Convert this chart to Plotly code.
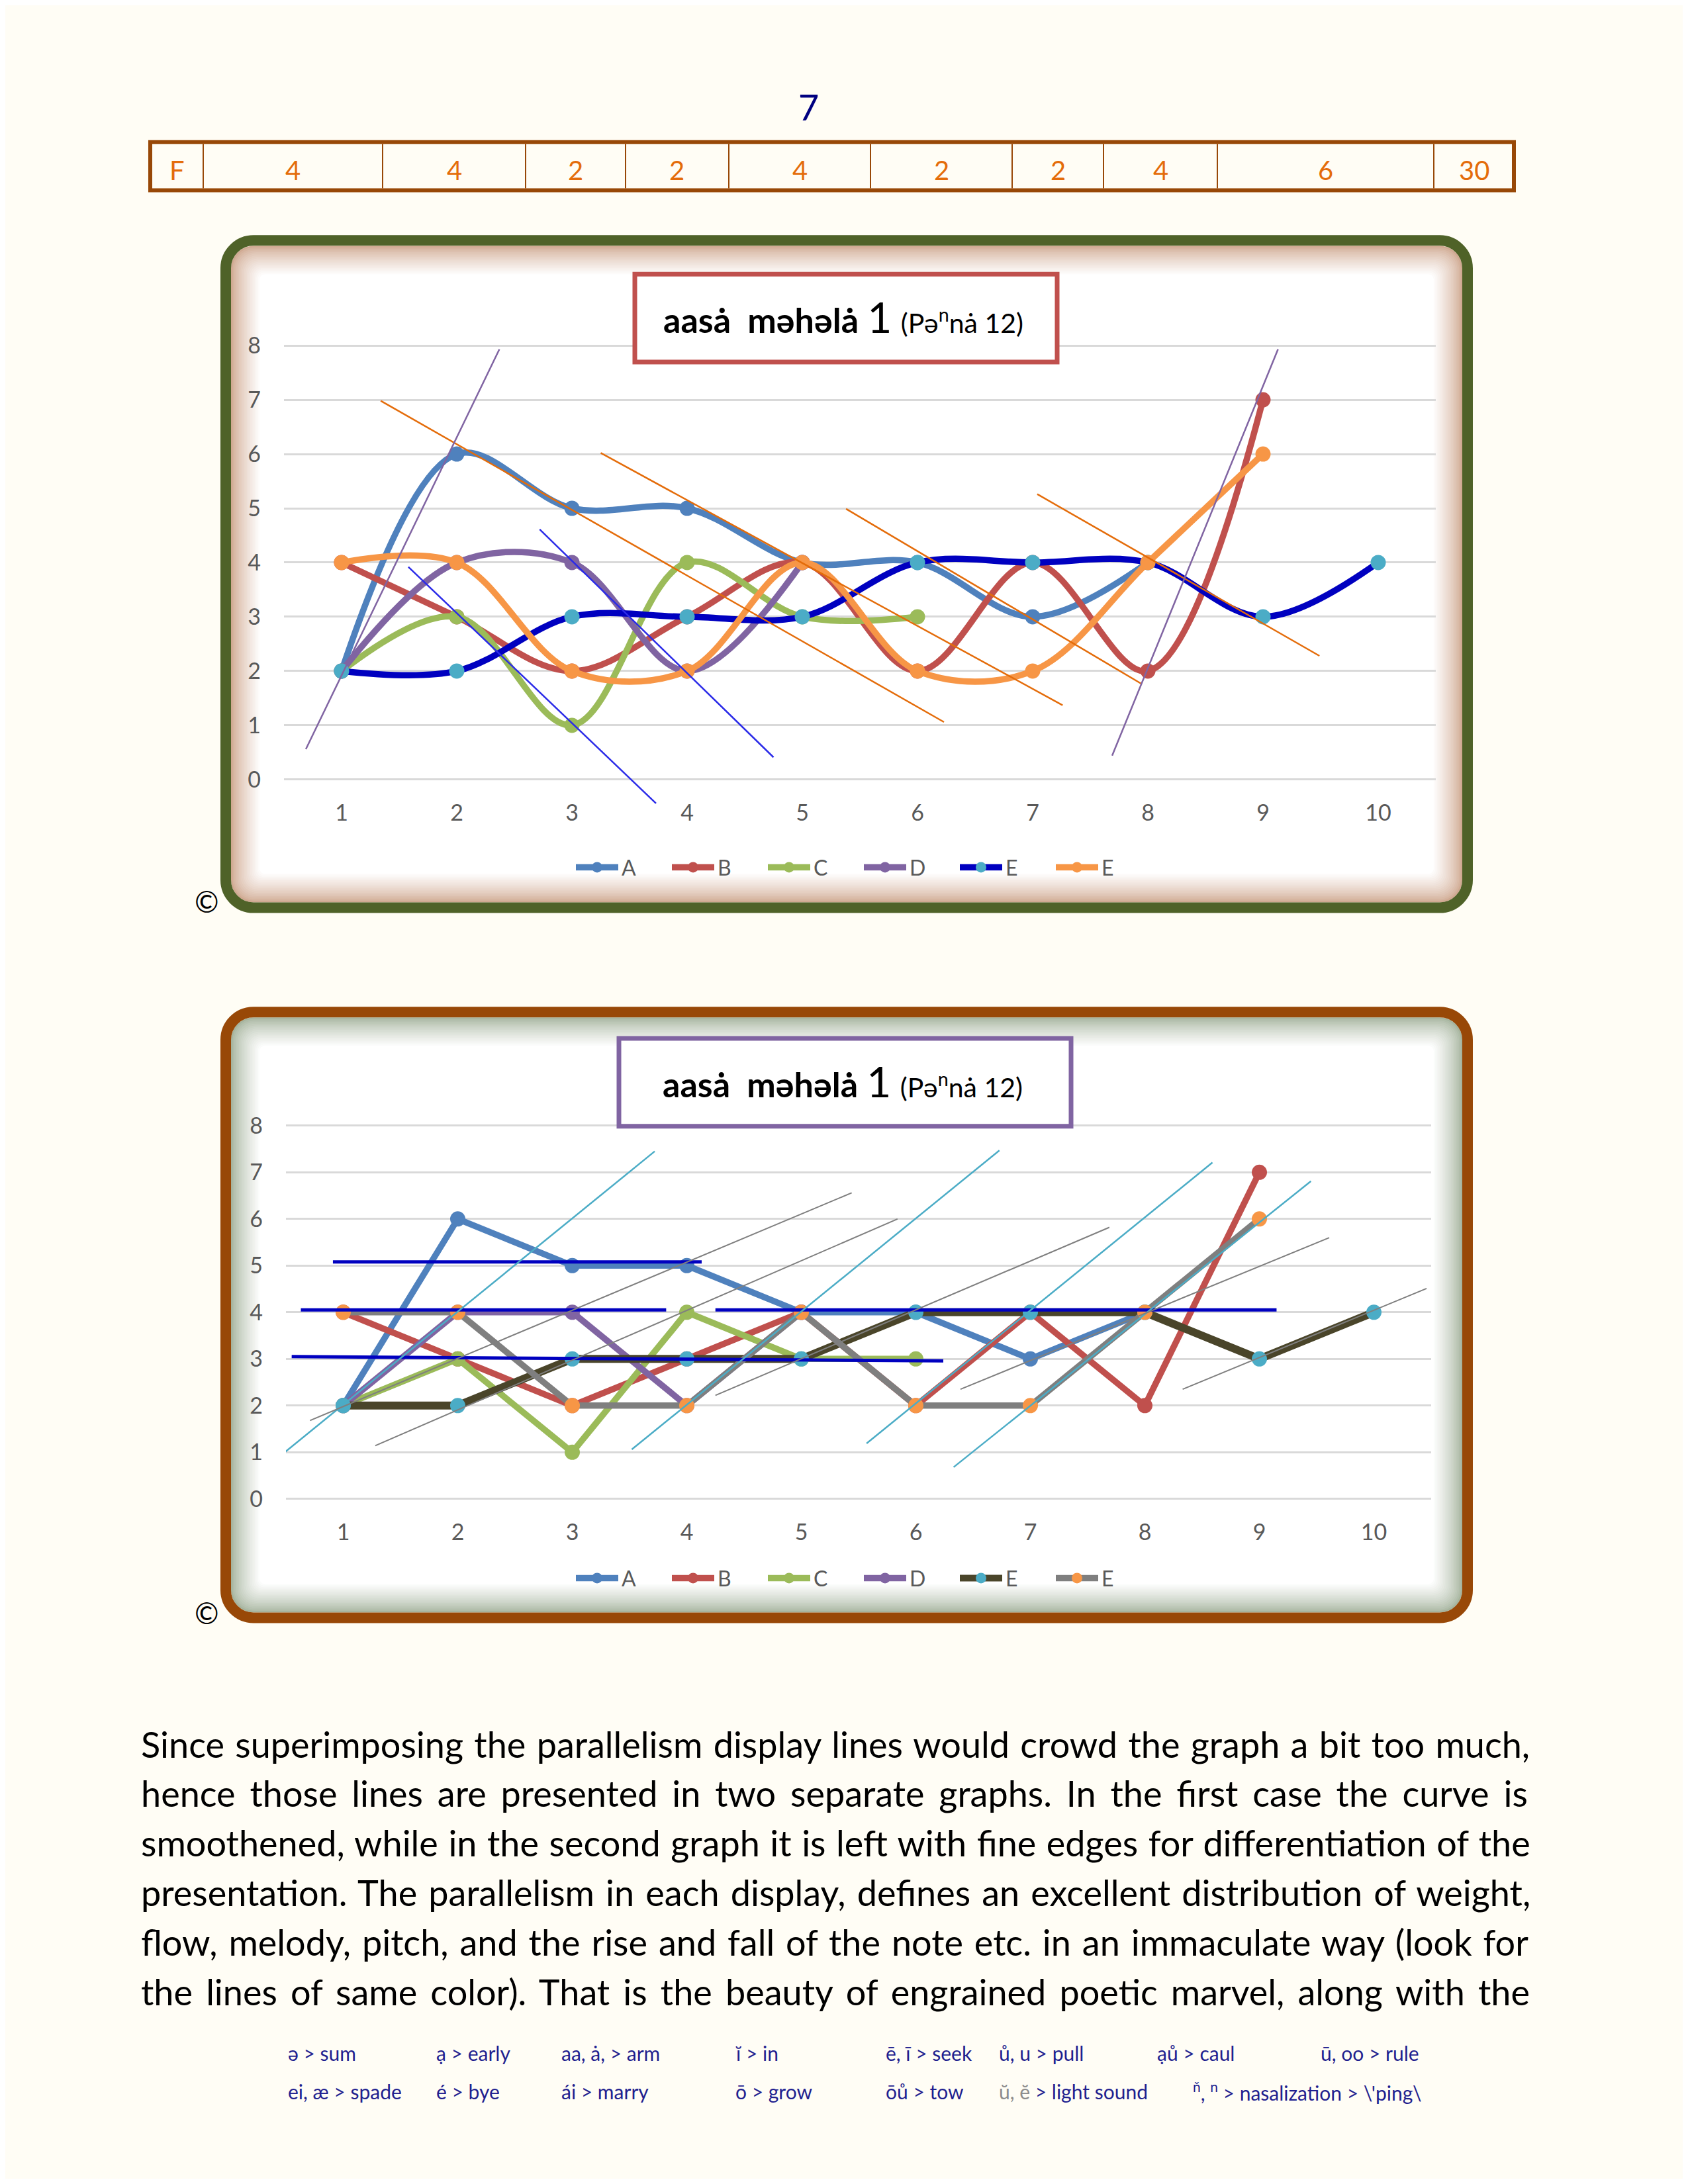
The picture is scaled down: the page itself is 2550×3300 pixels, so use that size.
import plotly.graph_objects as go

PAGE_W, PAGE_H = 2550, 3300
OFF = 8  # default body margin of the html page
W, H = PAGE_W - 2 * OFF, PAGE_H - 2 * OFF
PAGE_BG = '#FFFDF5'
FONT = 'Lato'
TICK_GREY = '#595959'

# ---- data ----
positions = [1, 2, 3, 4, 5, 6, 7, 8, 9, 10]
series_a = [2, 6, 5, 5, 4, 4, 3, 4]
series_b = [4, 3, 2, 3, 4, 2, 4, 2, 7]
series_c = [2, 3, 1, 4, 3, 3]
series_d = [2, 4, 4, 2, 4]
series_e = [2, 2, 3, 3, 3, 4, 4, 4, 3, 4]
series_e2 = [4, 4, 2, 2, 4, 2, 2, 4, 6]
series_names = ['A', 'B', 'C', 'D', 'E', 'E']
y_ticks = [0, 1, 2, 3, 4, 5, 6, 7, 8]

header_cells = ['F', '4', '4', '2', '2', '4', '2', '2', '4', '6', '30']
page_number = '7'

# parallelism guide lines (x0, y0, x1, y1), chart 1
guides1_orange = [(1.34, 6.98, 6.23, 1.06), (3.25, 6.02, 7.26, 1.37),
                  (5.38, 4.99, 7.94, 1.77), (7.04, 5.26, 9.49, 2.28)]
guides1_purple = [(0.69, 0.56, 2.37, 7.93), (7.69, 0.44, 9.13, 7.93)]
guides1_blue = [(1.58, 3.92, 3.73, -0.44), (2.72, 4.61, 4.75, 0.41)]
# chart 2
guides2_navy = [(0.91, 5.08, 4.13, 5.08), (0.63, 4.05, 3.82, 4.05),
                (4.25, 4.05, 9.15, 4.05), (0.55, 3.05, 6.24, 2.96)]
guides2_cyan = [(0.47, 0.96, 3.72, 7.45), (3.52, 1.06, 6.73, 7.47),
                (5.57, 1.19, 8.59, 7.21), (6.33, 0.68, 9.45, 6.81)]
guides2_grey = [(0.71, 1.68, 5.44, 6.56), (1.28, 1.14, 5.84, 6.0),
                (4.25, 2.22, 7.69, 5.82), (6.39, 2.35, 9.61, 5.60),
                (8.33, 2.35, 10.46, 4.51)]

title_html = ('<b>aasȧ\u00a0 məhəlȧ</b> <span style="font-size:64px">1</span> '
              '<span style="font-size:41px">(Pə<sup>n</sup>nȧ 12)</span>')

paragraph = [
    "Since superimposing the parallelism display lines would crowd the graph a bit too much,",
    "hence those lines are presented in two separate graphs. In the first case the curve is",
    "smoothened, while in the second graph it is left with fine edges for differentiation of the",
    "presentation. The parallelism in each display, defines an excellent distribution of weight,",
    "flow, melody, pitch, and the rise and fall of the note etc. in an immaculate way (look for",
    "the lines of same color). That is the beauty of engrained poetic marvel, along with the",
]
# extra word spacing (px) that stretches each line to the justified width
paragraph_spacing = [2.5, 8, 1.7, 3.3, 3.1, 6.3]

key_row1 = ['ə > sum', 'ạ > early', 'aa, ȧ, > arm', 'ĭ > in', 'ē, ī > seek',
            'ů, u > pull', 'ạů > caul', 'ū, oo > rule']
key_row2 = ['ei, æ > spade', 'é > bye', 'ái > marry', 'ō > grow', 'ōů > tow',
            '<span style="color:#8c8c8c">ŭ, ĕ</span> > light sound',
            '<sup>ň</sup>, <sup>n</sup> > nasalization > \\\'ping\\']


# ---- helpers: page pixels -> paper fractions ----
def px(x):
    return (x - OFF) / W


def py(y):
    # small empirical correction measured against the rendered page
    t = (y - 13) / 0.9973
    return 1 - (t - OFF) / H


def pt(x, y):
    return f'{px(x):.5f},{py(y):.5f}'


def rr_path(x0, y0, x1, y1, r):
    k = 0.5523 * r
    return (f'M{pt(x0 + r, y0)} L{pt(x1 - r, y0)} '
            f'C{pt(x1 - r + k, y0)} {pt(x1, y0 + r - k)} {pt(x1, y0 + r)} '
            f'L{pt(x1, y1 - r)} '
            f'C{pt(x1, y1 - r + k)} {pt(x1 - r + k, y1)} {pt(x1 - r, y1)} '
            f'L{pt(x0 + r, y1)} '
            f'C{pt(x0 + r - k, y1)} {pt(x0, y1 - r + k)} {pt(x0, y1 - r)} '
            f'L{pt(x0, y0 + r)} '
            f'C{pt(x0, y0 + r - k)} {pt(x0 + r - k, y0)} {pt(x0 + r, y0)} Z')


def lerp_color(c1, c2, t):
    a = [int(c1[i:i + 2], 16) for i in (1, 3, 5)]
    b = [int(c2[i:i + 2], 16) for i in (1, 3, 5)]
    return 'rgb(%d,%d,%d)' % tuple(round(a[i] + (b[i] - a[i]) * t) for i in range(3))


shapes = []
annotations = []


def add_frame(x0, y0, x1, y1, border, glow, bw=16, r=50, n=18, step=2.4):
    # inner glow made of nested rounded rectangles
    ix0, iy0, ix1, iy1 = x0 + bw, y0 + bw, x1 - bw, y1 - bw
    for k in range(n + 1):
        d = k * step
        t = (k / n) ** 0.75
        shapes.append(dict(type='path', xref='paper', yref='paper', layer='below',
                           path=rr_path(ix0 + d, iy0 + d, ix1 - d, iy1 - d, max(r - bw - d * 0.6, 6)),
                           fillcolor=lerp_color(glow, '#FFFFFF', t), line=dict(width=0)))
    h = bw / 2
    shapes.append(dict(type='path', xref='paper', yref='paper', layer='below',
                       path=rr_path(x0 + h, y0 + h, x1 - h, y1 - h, r - h),
                       line=dict(color=border, width=bw)))


def add_title_box(x0, y0, x1, y1, color):
    shapes.append(dict(type='rect', xref='paper', yref='paper', layer='above',
                       x0=px(x0), x1=px(x1), y0=py(y1), y1=py(y0),
                       fillcolor='white', line=dict(color=color, width=7)))
    annotations.append(dict(xref='paper', yref='paper', x=px((x0 + x1) / 2 - 4), y=py((y0 + y1) / 2 - 2),
                            text=title_html, showarrow=False, xanchor='center', yanchor='middle',
                            font=dict(family=FONT, size=52, color='black')))


# ---- frames ----
add_frame(333, 354, 2225, 1380, '#4F6228', '#D0A991')
add_frame(333, 1522, 2225, 2455, '#984807', '#A6B49E')
add_title_box(959, 413, 1597, 546, '#C0504D')
add_title_box(935, 1570, 1618, 1703, '#8064A2')

# ---- header table ----
header_edges = [227, 307, 578, 794, 945, 1101, 1315, 1529, 1667, 1839, 2166, 2287]
tab_top, tab_bot = 213, 286
shapes.append(dict(type='rect', xref='paper', yref='paper', layer='below',
                   x0=px(header_edges[0]), x1=px(header_edges[-1]), y0=py(tab_bot), y1=py(tab_top),
                   line=dict(color='#984807', width=6)))
for e in header_edges[1:-1]:
    shapes.append(dict(type='line', xref='paper', yref='paper', layer='below',
                       x0=px(e), x1=px(e), y0=py(tab_bot - 3), y1=py(tab_top + 3),
                       line=dict(color='#984807', width=2)))
for i, lab in enumerate(header_cells):
    annotations.append(dict(xref='paper', yref='paper', x=px((header_edges[i] + header_edges[i + 1]) / 2),
                            y=py(255), text=lab, showarrow=False, xanchor='center', yanchor='middle',
                            font=dict(family=FONT, size=40, color='#E46C0A')))

annotations.append(dict(xref='paper', yref='paper', x=px(1221), y=py(160), text=page_number,
                        showarrow=False, xanchor='center', yanchor='middle',
                        font=dict(family=FONT, size=54, color='#000080')))

# copyright marks
for cy in (1362, 2440):
    annotations.append(dict(xref='paper', yref='paper', x=px(312), y=py(cy), text='©',
                            showarrow=False, xanchor='center', yanchor='middle',
                            font=dict(family=FONT, size=44, color='black')))

# paragraph
for i, (line, ws) in enumerate(zip(paragraph, paragraph_spacing)):
    annotations.append(dict(xref='paper', yref='paper', x=px(211), y=py(2638 + i * 75),
                            text=f'<span style="word-spacing:{ws}px">{line}</span>',
                            showarrow=False, xanchor='left', yanchor='middle',
                            font=dict(family=FONT, size=54, color='black')))

# pronunciation key
key_cols1 = [433, 657, 846, 1109, 1336, 1507, 1746, 1993]
key_cols2 = [433, 657, 846, 1109, 1336, 1507, 1800]
for txt, cx in zip(key_row1, key_cols1):
    annotations.append(dict(xref='paper', yref='paper', x=px(cx), y=py(3106), text=txt,
                            showarrow=False, xanchor='left', yanchor='middle',
                            font=dict(family=FONT, size=30, color='#1F1F8F')))
for txt, cx in zip(key_row2, key_cols2):
    annotations.append(dict(xref='paper', yref='paper', x=px(cx), y=py(3164), text=txt,
                            showarrow=False, xanchor='left', yanchor='middle',
                            font=dict(family=FONT, size=30, color='#1F1F8F')))

# ---- traces ----
fig = go.Figure()


def series_trace(vals, name, line_color, marker_color, width, shape, xa, ya, legend):
    return go.Scatter(x=positions[:len(vals)], y=vals, name=name, mode='lines+markers',
                      line=dict(color=line_color, width=width, shape=shape, smoothing=1.0),
                      marker=dict(color=marker_color, size=23), xaxis=xa, yaxis=ya,
                      legend=legend, hoverinfo='x+y+name')


def guide_trace(segs, color, width, xa, ya):
    xs, ys = [], []
    for x0, y0, x1, y1 in segs:
        xs += [x0, x1, None]
        ys += [y0, y1, None]
    return go.Scatter(x=xs, y=ys, mode='lines', line=dict(color=color, width=width),
                      showlegend=False, hoverinfo='skip', xaxis=xa, yaxis=ya)


all_series = [series_a, series_b, series_c, series_d, series_e, series_e2]
style1 = [('#4F81BD', '#4F81BD'), ('#C0504D', '#C0504D'), ('#9BBB59', '#9BBB59'),
          ('#8064A2', '#8064A2'), ('#0000C0', '#4BACC6'), ('#F79646', '#F79646')]
style2 = [('#4F81BD', '#4F81BD'), ('#C0504D', '#C0504D'), ('#9BBB59', '#9BBB59'),
          ('#8064A2', '#8064A2'), ('#4A452A', '#4BACC6'), ('#7F7F7F', '#F79646')]

for vals, name, (lc, mc) in zip(all_series, series_names, style1):
    fig.add_trace(series_trace(vals, name, lc, mc, 9.5, 'spline', 'x', 'y', 'legend'))
fig.add_trace(guide_trace(guides1_orange, '#E46C0A', 2.5, 'x', 'y'))
fig.add_trace(guide_trace(guides1_purple, '#8064A2', 2.5, 'x', 'y'))
fig.add_trace(guide_trace(guides1_blue, '#2B2BE8', 2.5, 'x', 'y'))

for vals, name, (lc, mc) in zip(all_series, series_names, style2):
    w = 12 if lc == '#4A452A' else 9.5
    fig.add_trace(series_trace(vals, name, lc, mc, w, 'linear', 'x2', 'y2', 'legend2'))
fig.add_trace(guide_trace(guides2_navy, '#0000C0', 5, 'x2', 'y2'))
fig.add_trace(guide_trace(guides2_cyan, '#4BACC6', 2.5, 'x2', 'y2'))
fig.add_trace(guide_trace(guides2_grey, '#7F7F7F', 2, 'x2', 'y2'))


# ---- axes ----
def y_domain(y0_px, y8_px, lo, hi):
    unit = (y0_px - y8_px) / 8
    return [py(y0_px - lo * unit), py(y0_px - hi * unit)]


def x_axis(dom):
    return dict(domain=[px(dom[0]), px(dom[1])], range=[0.5, 10.5], tickvals=positions,
                showgrid=False, zeroline=False, showline=False, ticks='',
                ticklabelstandoff=-14,
                tickfont=dict(family=FONT, size=34, color=TICK_GREY), fixedrange=True)


def y_axis(dom, rng):
    return dict(domain=dom, range=rng, tickvals=y_ticks, showgrid=True, gridcolor='#D9D9D9',
                gridwidth=3, zeroline=False, showline=False, ticks='', ticklabelstandoff=34,
                tickfont=dict(family=FONT, size=34, color=TICK_GREY), fixedrange=True)


legend_style = dict(orientation='h', xanchor='center', yanchor='middle',
                    bgcolor='rgba(0,0,0,0)', font=dict(family=FONT, size=32, color=TICK_GREY),
                    itemwidth=64, entrywidth=66, entrywidthmode='pixels')

fig.update_layout(
    width=W, height=H, margin=dict(l=0, r=0, t=0, b=0),
    paper_bgcolor=PAGE_BG, plot_bgcolor='rgba(0,0,0,0)',
    xaxis=x_axis((429, 2169)), yaxis=y_axis(y_domain(1178, 521, -0.5, 8.2), [-0.5, 8.2]),
    xaxis2=dict(x_axis((432, 2162)), anchor='y2'),
    yaxis2=dict(y_axis(y_domain(2267, 1702, -0.58, 8.1), [-0.58, 8.1]), anchor='x2'),
    legend=dict(legend_style, x=px(1300), y=py(1311)),
    legend2=dict(legend_style, x=px(1300), y=py(2387)),
    shapes=shapes, annotations=annotations, showlegend=True,
)

fig.write_html('out.html')
